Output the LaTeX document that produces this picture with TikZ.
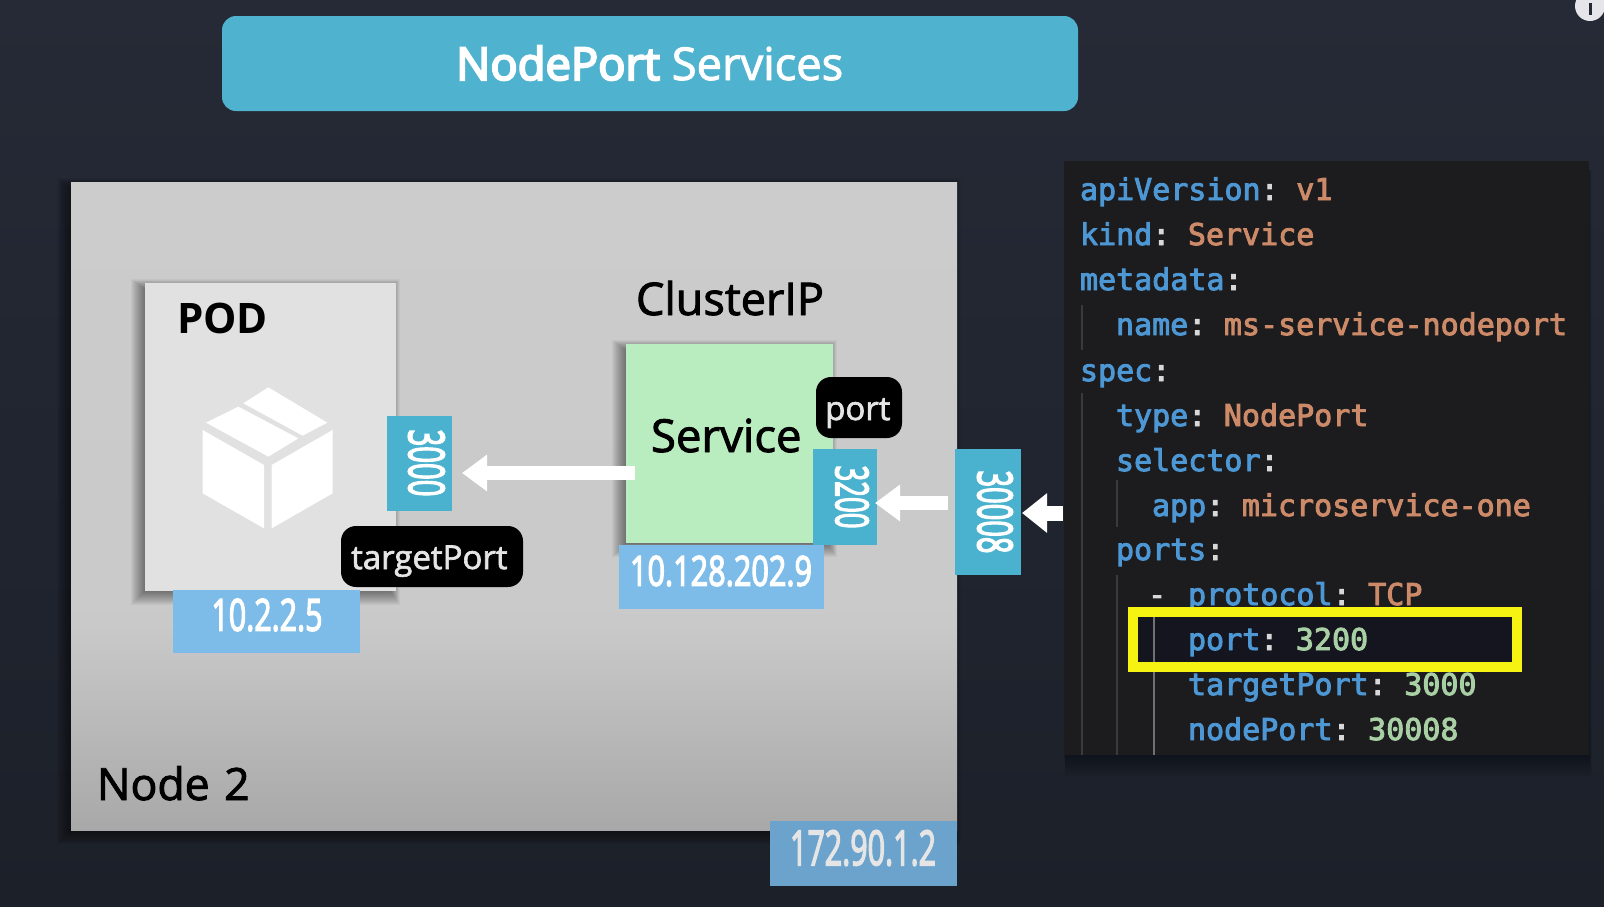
\documentclass[tikz,border=0pt]{standalone}
\usepackage{fontspec}
\setmainfont{Open Sans}
\newfontfamily\codefont[FakeBold=3]{DejaVu Sans Mono}
\newfontfamily\semibf[FakeBold=4.5]{Open Sans}
\newfontfamily\digitbf[FakeBold=3.5]{Open Sans}
\newfontfamily\lightbf[FakeBold=2]{Open Sans}
\usetikzlibrary{arrows.meta}
\definecolor{bgtop}{HTML}{252A36}
\definecolor{bgbot}{HTML}{1B2029}
\definecolor{bgc}{HTML}{232A36}
\definecolor{teal}{HTML}{4FB3CF}
\definecolor{portc}{HTML}{4AB2CE}
\definecolor{ipc}{HTML}{7DBCE9}
\definecolor{ipd}{HTML}{6CA3CC}
\definecolor{podc}{HTML}{E1E1E2}
\definecolor{svcc}{HTML}{B9EDBF}
\definecolor{panelc}{HTML}{1C1C1E}
\definecolor{keyc}{HTML}{4C97D4}
\definecolor{strc}{HTML}{CC8A68}
\definecolor{numc}{HTML}{A9CFA5}
\definecolor{punc}{HTML}{D8D8D8}
\definecolor{yel}{HTML}{F6F312}
\definecolor{gA}{HTML}{3A3A3C}
\definecolor{gB}{HTML}{707072}
\definecolor{hil}{HTML}{15151F}
\definecolor{badgec}{HTML}{E6E6EA}
\pgfdeclareverticalshading{nodegrad}{100bp}{color(0bp)=(black!34!white); color(25bp)=(black!34!white); color(41bp)=(black!21!white); color(75bp)=(black!20!white); color(100bp)=(black!20!white)}
\newcommand{\softshadow}[4]{% x1 y1 x2 y2
  \foreach \r in {1,2,...,14}{
    \fill[black,opacity=0.035] ({#1-\r},{#2+6-\r*0.7}) rectangle ({#3-6+\r*0.7},{#4+\r});
  }}
\newcommand{\fitt}[3]{\resizebox{#1pt}{#2pt}{\digitbf #3}}
\newcommand{\K}[1]{\textcolor{keyc}{#1}\textcolor{punc}{:}\hspace{17.6pt}}
\newcommand{\Sv}[1]{\textcolor{strc}{#1}}
\newcommand{\Nv}[1]{\textcolor{numc}{#1}}
\tikzset{
  box/.style={inner sep=0pt,outer sep=0pt,anchor=center},
  portbox/.style={box,fill=portc},
  ipbox/.style={box,fill=ipc},
  valtext/.style={inner sep=0pt,outer sep=0pt,text=white},
  pill/.style={box,fill=black,text=white,rounded corners=15pt},
  lab/.style={inner sep=0pt,outer sep=0pt,anchor=base west,text=black},
  code/.style={inner sep=0pt,outer sep=0pt,anchor=base west,font=\codefont\fontsize{30}{30}\selectfont},
  guide/.style={line width=1.5pt,draw=#1},
  blockarrow/.style={draw=white,line width=14pt,-{Triangle[length=25pt,width=35pt]}},
}
\begin{document}
\begin{tikzpicture}[x=1pt,y=-1pt]
\path[use as bounding box,top color=bgtop,bottom color=bgbot] (0,0) rectangle (1604,906);
% info badge
\node[circle,fill=badgec,minimum size=30pt,inner sep=0pt] (badge) at (1590,6) {};
\fill[bgc] (1588.5,3) rectangle (1591.5,15);
% title
\node[box,fill=teal,rounded corners=14pt,minimum width=856pt,minimum height=95pt] (title) at (650,63.5) {};
\node[inner sep=0pt,anchor=base west,text=white,font=\fontsize{45.3}{46}\selectfont] (titletext) at (456,80) {{\semibf NodePort} {\lightbf Services}};
% node 2
\softshadow{71}{182}{957}{830}
\node[box,minimum width=886pt,minimum height=648pt,shading=nodegrad] (nodetwo) at (514,506) {};
\node[lab,font=\lightbf\fontsize{44.5}{44.5}\selectfont] (nodelabel) at (97,800) {Node\hspace{3pt} 2};
% pod
\softshadow{145}{283}{396}{591}
\node[box,fill=podc,minimum width=251pt,minimum height=308pt] (pod) at (270.5,437) {};
\node[lab,font=\fontsize{42}{42}\selectfont\bfseries] (podlabel) at (177,333) {POD};
\begin{scope}[shift={(130,270)},x=0.33333pt,y=-0.33333pt]
  \fill[white] (218,480)--(402,585)--(402,775)--(218,670)--cycle;
  \fill[white] (425,585)--(608,480)--(608,670)--(425,775)--cycle;
  \fill[white] (228,458)--(325,410)--(505,505)--(415,560)--cycle;
  \fill[white] (340,400)--(415,352)--(592,458)--(518,497)--cycle;
\end{scope}
\node[portbox,minimum width=65pt,minimum height=95pt] (ptarget) at (419.5,463.5) {};
\node[valtext,rotate=-90] (ptargettext) at (426.5,463) {\fitt{67}{36}{3000}};
\node[pill,minimum width=182pt,minimum height=61pt] (targetpill) at (432,556.5) {};
\node[inner sep=0pt,anchor=base west,text=white!90!black,font=\lightbf\fontsize{33}{33}\selectfont] (targettext) at (351,569) {targetPort};
\node[ipbox,minimum width=187pt,minimum height=63pt] (ippod) at (266.5,621.5) {};
\node[valtext] (ippodtext) at (267,615) {\fitt{111}{32}{10.2.2.5}};
% service
\node[lab,font=\lightbf\fontsize{45}{45}\selectfont] (clusterlabel) at (636,315) {ClusterIP};
\softshadow{626}{344}{833}{543}
\node[box,fill=svcc,minimum width=207pt,minimum height=199pt] (svc) at (729.5,443.5) {};
\node[lab,font=\lightbf\fontsize{45.5}{45.5}\selectfont] (svctext) at (651,452) {Service};
\node[pill,minimum width=86pt,minimum height=61pt] (portpill) at (859,407.5) {};
\node[inner sep=0pt,anchor=base west,text=white!90!black,font=\lightbf\fontsize{33}{33}\selectfont] (porttext) at (825,420) {port};
\node[portbox,minimum width=64pt,minimum height=96pt] (psvc) at (845,497) {};
\node[valtext,rotate=-90] (psvctext) at (852,497) {\fitt{63}{33}{3200}};
\node[ipbox,minimum width=205pt,minimum height=64pt] (ipsvc) at (721.5,577) {};
\node[valtext] (ipsvctext) at (721,571) {\fitt{182}{30}{10.128.202.9}};
% node port
\node[portbox,minimum width=66pt,minimum height=126pt] (pnode) at (988,512) {};
\node[valtext,rotate=-90] (pnodetext) at (995,512) {\fitt{83}{35}{30008}};
\node[box,fill=ipd,minimum width=187pt,minimum height=65pt] (ipnode) at (863.5,853.5) {};
\node[valtext,text=white!90!black] (ipnodetext) at (863,848) {\fitt{146}{35}{172.90.1.2}};
% code panel
\foreach \r in {1,...,14}{
  \fill[black,opacity=0.025] ({1064+\r*0.1},{170}) rectangle ({1589+\r*0.2},{755+\r*1.6});
}
\node[box,fill=panelc,minimum width=525pt,minimum height=594pt] (panel) at (1326.5,458) {};
\draw[guide=gA] (1082,305) -- (1082,350);
\draw[guide=gA] (1082,393) -- (1082,755);
\draw[guide=gA] (1117,480) -- (1117,527);
\draw[guide=gA] (1117,575) -- (1117,755);
\draw[guide=gB,line width=2.5pt] (1154,617) -- (1154,755);
\node[code] (l1) at (1080,200) {\K{apiVersion}\Sv{v1}};
\node[code] (l2) at (1080,245) {\K{kind}\Sv{Service}};
\node[code] (l3) at (1080,290) {\K{metadata}};
\node[code] (l4) at (1116,335) {\K{name}\Sv{ms-service-nodeport}};
\node[code] (l5) at (1080,381) {\K{spec}};
\node[code] (l6) at (1116,426) {\K{type}\Sv{NodePort}};
\node[code] (l7) at (1116,471) {\K{selector}};
\node[code] (l8) at (1152,516) {\K{app}\Sv{microservice-one}};
\node[code] (l9) at (1116,560) {\K{ports}};
\node[code] (l10) at (1148,605) {\textcolor{punc}{-}\hspace{22pt}\K{protocol}\Sv{TCP}};
\node[code] (l12) at (1188,695) {\K{targetPort}\Nv{3000}};
\node[code] (l13) at (1188,740) {\K{nodePort}\Nv{30008}};
\node[box,draw=yel,line width=10pt,fill=hil,minimum width=384pt,minimum height=55.5pt] (hilite) at (1325,639.5) {};
\draw[guide=gB,line width=2.5pt] (1154,617) -- (1154,662);
\node[code] (l11) at (1188,650) {\K{port}\Nv{3200}};
% connectors
\coordinate (a1s) at (635,473);
\coordinate (a1e) at (462,473);
\coordinate (a2s) at (948,503);
\coordinate (a2e) at (875,503);
\coordinate (a3s) at (1063,513);
\coordinate (a3e) at (1022,513);
\draw[blockarrow] (a1s) -- (a1e);
\draw[blockarrow] (a2s) -- (a2e);
\draw[blockarrow,-{Triangle[length=25pt,width=38pt]},line width=15pt] (a3s) -- (a3e);
\end{tikzpicture}
\end{document}
